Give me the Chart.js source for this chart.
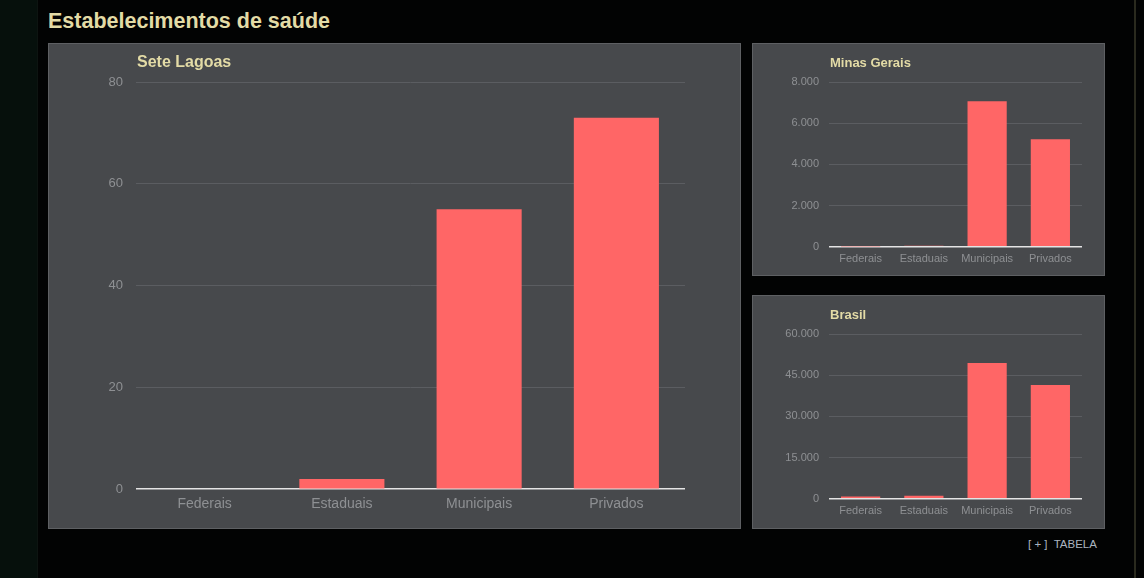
<!DOCTYPE html>
<html lang="pt-BR">
<head>
<meta charset="utf-8">
<title>Estabelecimentos de saúde</title>
<script src="https://cdn.jsdelivr.net/npm/chart.js@4/dist/chart.umd.min.js"></script>
<style>
  html, body {
    margin: 0;
    padding: 0;
    width: 1144px;
    height: 578px;
    overflow: hidden;
    background: #030504;
    font-family: "Liberation Sans", Arial, sans-serif;
  }
  .page {
    position: relative;
    width: 1144px;
    height: 578px;
    background: #020303;
  }
  .edge-left {
    position: absolute;
    left: 0; top: 0;
    width: 37px; height: 578px;
    background: #06100c;
    border-right: 1px solid #0d1411;
  }
  .edge-right {
    position: absolute;
    left: 1134px; top: 0;
    width: 2px; height: 578px;
    background: #2a2a1e;
  }
  h1 {
    position: absolute;
    left: 48px; top: 9px;
    margin: 0;
    font-size: 21.5px;
    font-weight: bold;
    color: #e3dba6;
  }
  .panel {
    position: absolute;
    background: #47494c;
    border: 1px solid #5e6063;
    box-sizing: border-box;
  }
  .panel h2 {
    position: absolute;
    margin: 0;
    font-weight: bold;
    color: #e3dba6;
    z-index: 2;
  }
  .panel canvas {
    position: absolute;
    left: 0; top: 0;
  }
  #pMain { left: 48px; top: 43px; width: 693px; height: 486px; }
  #pMain h2 { left: 88px; top: 9px; font-size: 16px; }
  #pMg { left: 752px; top: 43px; width: 353px; height: 233px; }
  #pMg h2 { left: 77px; top: 11px; font-size: 13px; }
  #pBr { left: 752px; top: 295px; width: 353px; height: 234px; }
  #pBr h2 { left: 77px; top: 11px; font-size: 13px; }
  .tabela {
    position: absolute;
    left: 1028px; top: 538px;
    font-size: 11.5px;
    color: #aab3bf;
  }
</style>
</head>
<body>
<div class="page">
  <div class="edge-left"></div>
  <div class="edge-right"></div>
  <h1>Estabelecimentos de saúde</h1>

  <div class="panel" id="pMain">
    <h2>Sete Lagoas</h2>
    <canvas id="chartMain"></canvas>
  </div>
  <div class="panel" id="pMg">
    <h2>Minas Gerais</h2>
    <canvas id="chartMg"></canvas>
  </div>
  <div class="panel" id="pBr">
    <h2>Brasil</h2>
    <canvas id="chartBr"></canvas>
  </div>

  <div class="tabela">[ + ]&nbsp; TABELA</div>
</div>

<script>
// --- Data ---
const categories = ["Federais", "Estaduais", "Municipais", "Privados"];

const seteLagoas = [0, 2, 55, 73];
const minasGerais = [15, 55, 7070, 5220];
const brasil = [800, 1150, 49400, 41400];

const ticksSeteLagoas = [0, 20, 40, 60, 80];
const ticksMinasGerais = [0, 2000, 4000, 6000, 8000];
const ticksBrasil = [0, 15000, 30000, 45000, 60000];

// --- Shared styling ---
const BAR_COLOR = "#ff6666";
const GRID_COLOR = "#5b5d61";
const ZERO_COLOR = "#e4e4e4";
const TICK_COLOR = "#8e9093";

Chart.defaults.font.family = "'Liberation Sans', Arial, sans-serif";
Chart.defaults.animation = false;

// 8000 -> "8.000"
const fmt = (v) => String(v).replace(/\B(?=(\d{3})+(?!\d))/g, ".");

function makeChart(id, values, ticks, opt) {
  const canvas = document.getElementById(id);
  const panel = canvas.parentElement;
  canvas.width = panel.clientWidth;
  canvas.height = panel.clientHeight;

  return new Chart(canvas.getContext("2d"), {
    type: "bar",
    data: {
      labels: categories,
      datasets: [
        {
          data: values,
          backgroundColor: BAR_COLOR,
          borderWidth: 0,
          barPercentage: 0.62,
          categoryPercentage: 1,
        },
      ],
    },
    options: {
      responsive: false,
      maintainAspectRatio: false,
      layout: { padding: opt.padding },
      plugins: {
        legend: { display: false },
        tooltip: { enabled: false },
      },
      scales: {
        y: {
          min: ticks[0],
          max: ticks[ticks.length - 1],
          afterBuildTicks: (axis) => {
            axis.ticks = ticks.map((v) => ({ value: v }));
          },
          afterFit: (axis) => {
            axis.width = opt.axisWidth;
          },
          border: { display: false },
          grid: {
            drawTicks: false,
            color: (ctx) => (ctx.tick && ctx.tick.value === 0 ? ZERO_COLOR : GRID_COLOR),
            lineWidth: (ctx) => (ctx.tick && ctx.tick.value === 0 ? 1.5 : 1),
          },
          ticks: {
            color: TICK_COLOR,
            font: { size: opt.yFont },
            padding: opt.yPad,
            callback: (v) => fmt(v),
          },
        },
        x: {
          border: { display: false },
          grid: { display: false, drawTicks: false },
          ticks: {
            color: TICK_COLOR,
            font: { size: opt.xFont },
            padding: opt.xPad,
            maxRotation: 0,
            autoSkip: false,
          },
        },
      },
    },
  });
}

makeChart("chartMain", seteLagoas, ticksSeteLagoas, {
  padding: { top: 38, right: 55, bottom: 8, left: 0 },
  axisWidth: 87,
  yFont: 13,
  yPad: 13,
  xFont: 14,
  xPad: 7,
});

makeChart("chartMg", minasGerais, ticksMinasGerais, {
  padding: { top: 38, right: 22, bottom: 3, left: 0 },
  axisWidth: 76,
  yFont: 11,
  yPad: 10,
  xFont: 11,
  xPad: 6,
});

makeChart("chartBr", brasil, ticksBrasil, {
  padding: { top: 38, right: 22, bottom: 4, left: 0 },
  axisWidth: 76,
  yFont: 11,
  yPad: 10,
  xFont: 11,
  xPad: 6,
});
</script>
</body>
</html>
